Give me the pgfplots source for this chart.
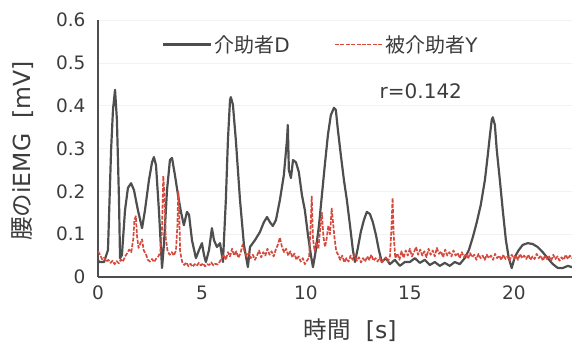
\documentclass[border=0pt]{standalone}
\usepackage{pgfplots}
\pgfplotsset{compat=1.18}
\usepackage{fontspec}
\setmainfont{DejaVu Sans}
\newfontfamily\jp{Noto Sans CJK JP}
\definecolor{gline}{RGB}{78,78,78}
\definecolor{rline}{RGB}{214,74,62}
\definecolor{txt}{RGB}{60,60,60}
\begin{document}
\begin{tikzpicture}
\begin{axis}[
  scale only axis, width=474bp, height=257bp,
  xmin=0, xmax=22.8, ymin=0, ymax=0.6,
  xtick={0,5,10,15,20}, ytick={0,0.1,0.2,0.3,0.4,0.5,0.6},
  /pgf/number format/assume math mode=true,
  yticklabel style={/pgf/number format/fixed, /pgf/number format/precision=1},
  tick style={draw=none},
  axis x line*=bottom, axis y line*=left,
  axis line style={draw=gline, line width=1.4pt, -},
  ymajorgrids, grid style={draw=black!5, line width=0.6pt},
  ticklabel style={font=\fontsize{18.5bp}{20bp}\selectfont, text=txt},
  xticklabel style={yshift=-5bp},
  yticklabel style={xshift=-9bp},
  xlabel={{\jp 時間}\ \ [s]},
  ylabel={{\jp 腰の}iEMG\ \ [mV]},
  label style={font=\fontsize{23.5bp}{25bp}\selectfont, text=txt},
  xlabel style={at={(axis description cs:0.532,-0.205)}, anchor=center},
  ylabel style={at={(axis description cs:-0.16,0.49)}, anchor=center},
  legend style={at={(axis description cs:0.135,0.905)}, anchor=west, draw=none, fill=none,
    inner sep=0pt, legend columns=2, font=\fontsize{20bp}{22bp}\selectfont, text=txt,
    /tikz/every even column/.append style={column sep=42bp}},
  legend cell align=left,
  legend image code/.code={\draw[#1] (0bp,0bp) -- (48bp,0bp);},
  clip=true,
]
\coordinate (ll) at (rel axis cs:0,0);
\addplot[gline, line width=2.2pt, line join=round] coordinates {
(0.00,0.040)(0.05,0.035)(0.29,0.035)(0.48,0.063)(0.63,0.297)(0.72,0.390)(0.82,0.437)(0.91,0.367)
(1.01,0.180)(1.06,0.044)(1.15,0.051)(1.30,0.156)(1.44,0.208)(1.59,0.219)(1.73,0.203)(1.92,0.156)
(2.12,0.114)(2.26,0.156)(2.45,0.226)(2.60,0.268)(2.69,0.280)(2.79,0.261)(2.93,0.156)(3.08,0.021)
(3.17,0.075)(3.32,0.203)(3.46,0.273)(3.56,0.278)(3.70,0.238)(3.85,0.191)(3.99,0.152)(4.13,0.121)
(4.28,0.152)(4.38,0.145)(4.52,0.086)(4.71,0.044)(4.86,0.063)(5.00,0.079)(5.10,0.051)(5.19,0.035)
(5.34,0.063)(5.48,0.114)(5.58,0.086)(5.72,0.070)(5.87,0.079)(6.01,0.035)(6.15,0.180)(6.25,0.320)
(6.35,0.413)(6.39,0.420)(6.49,0.402)(6.63,0.320)(6.83,0.180)(7.02,0.075)(7.21,0.023)(7.31,0.070)
(7.55,0.086)(7.79,0.105)(7.98,0.128)(8.13,0.140)(8.27,0.128)(8.41,0.119)(8.56,0.133)(8.75,0.180)
(8.94,0.238)(9.09,0.320)(9.13,0.355)(9.18,0.250)(9.28,0.231)(9.38,0.273)(9.52,0.268)(9.66,0.245)
(9.81,0.191)(9.95,0.156)(10.10,0.098)(10.24,0.051)(10.34,0.023)(10.48,0.063)(10.63,0.121)(10.77,0.191)
(10.91,0.261)(11.06,0.332)(11.20,0.378)(11.35,0.395)(11.44,0.390)(11.54,0.343)(11.68,0.285)(11.83,0.226)
(11.97,0.180)(12.12,0.121)(12.26,0.063)(12.36,0.035)(12.50,0.068)(12.64,0.105)(12.79,0.133)(12.93,0.152)
(13.08,0.147)(13.22,0.128)(13.37,0.098)(13.51,0.063)(13.65,0.035)(13.85,0.044)(14.04,0.030)(14.28,0.040)
(14.52,0.026)(14.76,0.035)(15.00,0.035)(15.24,0.044)(15.48,0.033)(15.72,0.040)(15.96,0.028)(16.20,0.035)
(16.44,0.026)(16.68,0.033)(16.92,0.026)(17.16,0.035)(17.40,0.030)(17.64,0.044)(17.84,0.063)(18.03,0.093)
(18.22,0.128)(18.41,0.168)(18.61,0.226)(18.75,0.285)(18.85,0.330)(18.94,0.367)(18.99,0.373)(19.09,0.355)
(19.18,0.297)(19.33,0.226)(19.47,0.156)(19.62,0.086)(19.76,0.044)(19.90,0.021)(20.05,0.047)(20.24,0.063)
(20.43,0.075)(20.67,0.079)(20.91,0.077)(21.15,0.070)(21.39,0.058)(21.63,0.044)(21.88,0.030)(22.12,0.021)
(22.36,0.021)(22.60,0.026)(22.80,0.023)(22.90,0.025)
};
\addlegendentry{{\jp 介助者}D}
\addplot[rline, line width=1.7pt, dash pattern=on 4pt off 1.5pt, line join=round] coordinates {
(0.0,0.060)(0.1,0.052)(0.2,0.041)(0.3,0.045)(0.4,0.036)(0.5,0.040)(0.6,0.033)(0.7,0.038)(0.8,0.030)
(0.9,0.037)(1.0,0.032)(1.1,0.041)(1.2,0.036)(1.3,0.048)(1.4,0.055)(1.5,0.064)(1.6,0.058)(1.7,0.090)
(1.75,0.133)(1.82,0.142)(1.88,0.095)(1.95,0.068)(2.05,0.080)(2.12,0.088)(2.2,0.062)(2.3,0.054)
(2.4,0.040)(2.5,0.036)(2.6,0.042)(2.7,0.035)(2.8,0.043)(2.9,0.048)(3.0,0.058)(3.08,0.110)
(3.14,0.236)(3.2,0.190)(3.26,0.090)(3.35,0.060)(3.45,0.052)(3.55,0.058)(3.65,0.050)(3.75,0.062)
(3.82,0.120)(3.86,0.200)(3.9,0.170)(3.95,0.060)(4.05,0.035)(4.15,0.028)(4.25,0.034)(4.35,0.025)
(4.45,0.031)(4.55,0.024)(4.65,0.030)(4.75,0.026)(4.85,0.033)(4.95,0.027)(5.05,0.032)(5.15,0.025)
(5.25,0.030)(5.35,0.028)(5.45,0.034)(5.55,0.027)(5.65,0.031)(5.75,0.029)(5.85,0.035)(5.95,0.045)
(6.05,0.052)(6.15,0.040)(6.25,0.058)(6.35,0.048)(6.45,0.066)(6.55,0.050)(6.65,0.060)(6.75,0.045)
(6.85,0.055)(6.95,0.075)(7.05,0.060)(7.15,0.048)(7.25,0.056)(7.35,0.044)(7.45,0.052)(7.55,0.040)
(7.65,0.050)(7.75,0.062)(7.85,0.046)(7.95,0.058)(8.05,0.050)(8.15,0.066)(8.25,0.052)(8.35,0.060)
(8.45,0.048)(8.55,0.064)(8.65,0.075)(8.75,0.092)(8.85,0.070)(8.95,0.058)(9.05,0.066)(9.15,0.050)
(9.25,0.060)(9.35,0.046)(9.45,0.055)(9.55,0.040)(9.65,0.048)(9.75,0.036)(9.85,0.044)(9.95,0.030)
(10.05,0.038)(10.15,0.045)(10.22,0.110)(10.28,0.188)(10.34,0.090)(10.42,0.060)(10.5,0.080)(10.6,0.065)
(10.7,0.120)(10.77,0.150)(10.84,0.095)(10.92,0.070)(11.0,0.090)(11.08,0.120)(11.16,0.100)(11.24,0.160)
(11.3,0.130)(11.38,0.090)(11.46,0.060)(11.55,0.052)(11.65,0.040)(11.75,0.050)(11.85,0.034)(11.95,0.044)
(12.05,0.036)(12.15,0.050)(12.25,0.040)(12.35,0.052)(12.45,0.038)(12.55,0.046)(12.65,0.034)(12.75,0.044)
(12.85,0.036)(12.95,0.048)(13.05,0.040)(13.15,0.052)(13.25,0.038)(13.35,0.044)(13.45,0.036)(13.55,0.046)
(13.65,0.034)(13.75,0.040)(13.85,0.046)(13.95,0.036)(14.05,0.050)(14.12,0.120)(14.17,0.185)(14.22,0.100)
(14.3,0.044)(14.4,0.055)(14.5,0.040)(14.6,0.060)(14.7,0.045)(14.8,0.062)(14.9,0.050)(15.0,0.066)
(15.1,0.048)(15.2,0.058)(15.3,0.070)(15.4,0.052)(15.5,0.064)(15.6,0.050)(15.7,0.060)(15.8,0.046)
(15.9,0.066)(16.0,0.052)(16.1,0.062)(16.2,0.048)(16.3,0.068)(16.4,0.054)(16.5,0.060)(16.6,0.046)
(16.7,0.064)(16.8,0.050)(16.9,0.058)(17.0,0.048)(17.1,0.062)(17.2,0.050)(17.3,0.056)(17.4,0.044)
(17.5,0.058)(17.6,0.046)(17.7,0.054)(17.8,0.042)(17.9,0.056)(18.0,0.046)(18.1,0.052)(18.2,0.040)
(18.3,0.054)(18.4,0.044)(18.5,0.050)(18.6,0.040)(18.7,0.052)(18.8,0.044)(18.9,0.050)(19.0,0.040)
(19.1,0.054)(19.2,0.044)(19.3,0.050)(19.4,0.040)(19.5,0.052)(19.6,0.042)(19.7,0.048)(19.8,0.038)
(19.9,0.052)(20.0,0.042)(20.1,0.050)(20.2,0.040)(20.3,0.054)(20.4,0.044)(20.5,0.050)(20.6,0.042)
(20.7,0.052)(20.8,0.040)(20.9,0.048)(21.0,0.042)(21.1,0.054)(21.2,0.044)(21.3,0.050)(21.4,0.038)
(21.5,0.050)(21.6,0.042)(21.7,0.048)(21.8,0.038)(21.9,0.052)(22.0,0.042)(22.1,0.048)(22.2,0.038)
(22.3,0.046)(22.4,0.040)(22.5,0.052)(22.6,0.042)(22.7,0.050)(22.8,0.044)(22.9,0.046)
};
\addlegendentry{{\jp 被介助者}Y}
\node[text=txt, font=\fontsize{20bp}{22bp}\selectfont, anchor=center] at (axis cs:15.53,0.434) {r=0.142};
\end{axis}
\pgfresetboundingbox
\path[use as bounding box] (ll) ++(-98bp,-79bp) rectangle ++(572bp,356bp);
\end{tikzpicture}
\end{document}
